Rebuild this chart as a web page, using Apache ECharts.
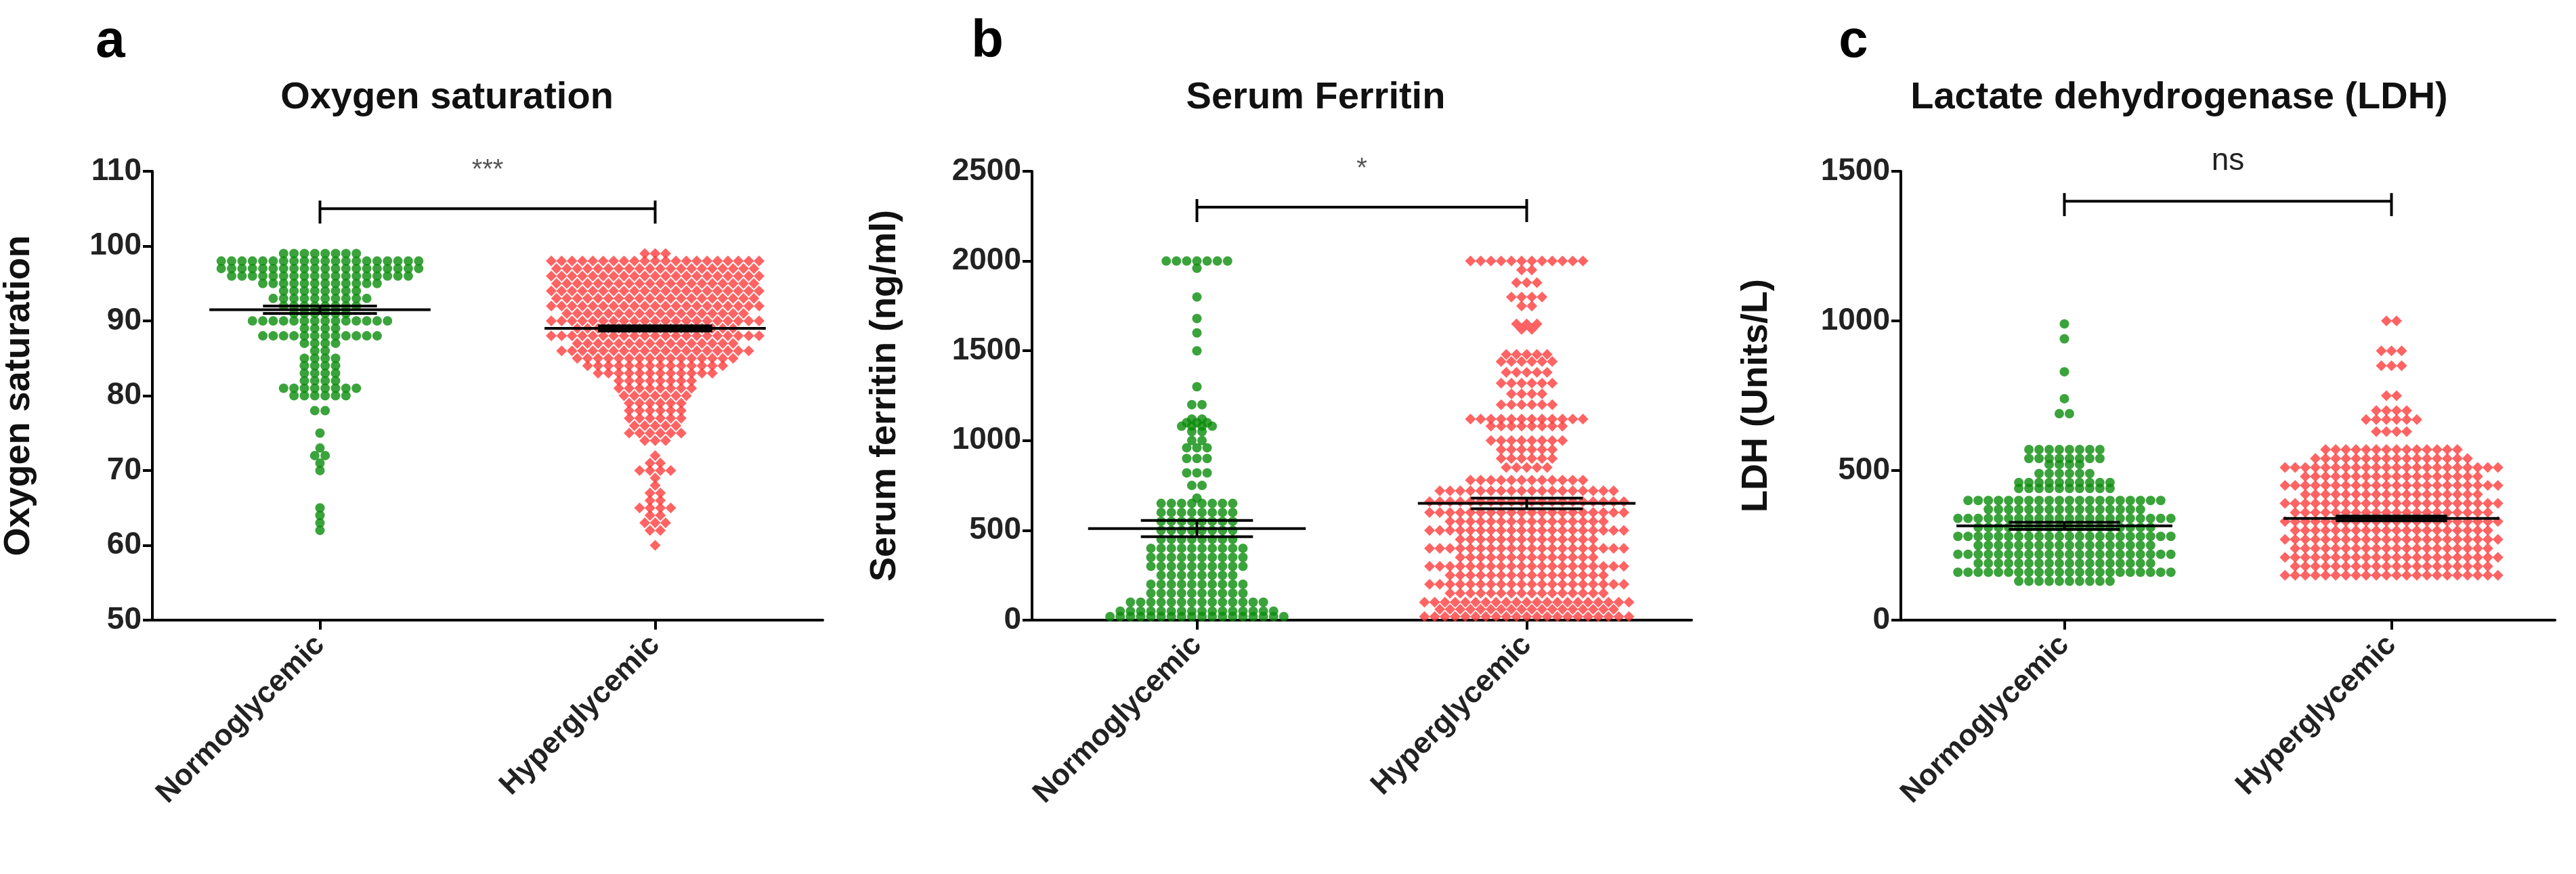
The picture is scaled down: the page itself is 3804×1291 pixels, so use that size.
<!DOCTYPE html>
<html><head><meta charset="utf-8">
<script src="https://cdn.jsdelivr.net/npm/echarts@6/dist/echarts.min.js"></script>
<style>html,body{margin:0;background:#fff}#c{width:3804px;height:1291px}</style>
</head><body><div id="c"></div>
<script>
const categories = ['Normoglycemic','Hyperglycemic'];
// [value, count] pairs
const o2Normo = [[99,8],[98,20],[97,20],[96,18],[95,12],[94,8],[93,10],[92,8],[91,6],[90,14],[89,4],[88,12],[87,4],[86,2],[85,4],[84,4],[83,4],[82,4],[81,8],[80,6],[78,2],[75,1],[73,1],[72,2],[71,1],[70,1],[65,1],[64,1],[63,1],[62,1]];
const o2Hyper = [[99,3],[98,21],[97,20],[96,21],[95,20],[94,21],[93,20],[92,21],[91,18],[90,21],[89,16],[88,21],[87,16],[86,19],[85,16],[84,14],[83,12],[82,8],[81,8],[80,7],[79,6],[78,6],[77,6],[76,5],[75,6],[74,3],[72,1],[71,2],[70,4],[69,1],[68,1],[67,2],[66,2],[65,4],[64,2],[63,3],[62,2],[60,1]];
const ferNormo = [[2000,7],[1960,1],[1800,1],[1680,1],[1600,1],[1500,1],[1300,1],[1200,2],[1120,2],[1100,3],[1080,4],[1050,2],[1000,2],[960,3],[900,3],[820,3],[750,2],[680,1],[650,8],[600,8],[550,8],[500,8],[450,8],[400,10],[350,10],[300,10],[250,8],[200,10],[150,10],[100,14],[50,16],[20,18]];
const ferHyper = [[2000,12],[1950,2],[1880,3],[1800,4],[1750,2],[1650,3],[1620,2],[1480,5],[1440,6],[1380,5],[1320,6],[1260,4],[1200,6],[1120,12],[1080,8],[1000,8],[950,6],[900,6],[850,5],[780,12],[720,18],[660,20],[600,20],[550,16],[500,20],[450,14],[400,20],[350,14],[300,20],[250,16],[200,20],[150,16],[100,21],[60,18],[20,21]];
const ldhNormo = [[990,1],[940,1],[830,1],[740,1],[690,2],[570,8],[540,8],[520,4],[490,6],[460,10],[440,10],[400,20],[370,16],[340,22],[310,18],[280,22],[250,18],[220,22],[190,18],[160,22],[130,10]];
const ldhHyper = [[1000,2],[900,3],[850,3],[750,2],[700,4],[670,6],[630,4],[570,14],[540,16],[510,22],[480,18],[450,22],[420,18],[390,22],[360,20],[330,22],[300,20],[270,22],[240,20],[210,22],[180,20],[150,22]];
const means = {o2:[91.5,89.0], fer:[510,650], ldh:[315,340]};
const sems  = {o2:[0.5,0.35], fer:[45,30], ldh:[12,8]};
const brackets = {o2:105, fer:2300, ldh:1400};
const sigLabels = {o2:'***', fer:'*', ldh:'ns'};
const titles = ['Oxygen saturation','Serum Ferritin','Lactate dehydrogenase (LDH)'];
const yNames = ['Oxygen saturation','Serum ferritin (ng/ml)','LDH (Units/L)'];
const yRanges = [[50,110,10],[0,2500,500],[0,1500,500]];

const SP = 0.031; // horizontal dot spacing in category units (layout)
function swarm(pairs, cx){
  const out=[];
  pairs.forEach(([v,n])=>{for(let i=0;i<n;i++) out.push([cx+(i-(n-1)/2)*SP, v]);});
  return out;
}
const grids = [{left:217,width:998},{left:1524,width:974},{left:2807,width:966}];
const nameGaps=[170,190,186];
const keys=['o2','fer','ldh'];
const sets=[[o2Normo,o2Hyper],[ferNormo,ferHyper],[ldhNormo,ldhHyper]];
const font='Liberation Sans, Arial, sans-serif';
const option={animation:false,backgroundColor:'#fff',
  title:[],grid:[],xAxis:[],yAxis:[],series:[]};
const letters=['a','b','c'], letterX=[158,1453,2732], titleX=[655,1938,3213];
for(let p=0;p<3;p++){
  option.title.push({text:letters[p],left:letterX[p],top:18,textAlign:'center',textStyle:{fontSize:78,fontWeight:'bold',color:'#000',fontFamily:font}});
  option.title.push({text:titles[p],left:titleX[p],top:112,textAlign:'center',textStyle:{fontSize:56,fontWeight:'bold',color:'#111',fontFamily:font}});
  option.grid.push({left:grids[p].left,width:grids[p].width,top:253,height:663});
  option.xAxis.push({gridIndex:p,type:'value',min:-0.5,max:1.5,splitLine:{show:false},
    axisLine:{onZero:false,lineStyle:{color:'#000',width:4}},
    axisTick:{customValues:[0,1],length:14,lineStyle:{color:'#000',width:4}},
    axisLabel:{customValues:[0,1],rotate:45,margin:30,fontSize:44,fontWeight:'bold',color:'#222',fontFamily:font,
      formatter:v=>categories[Math.round(v)]}});
  const [mn,mx,iv]=yRanges[p];
  option.yAxis.push({gridIndex:p,type:'value',min:mn,max:mx,interval:iv,splitLine:{show:false},
    name:yNames[p],nameLocation:'middle',nameGap:nameGaps[p],nameRotate:90,
    nameTextStyle:{fontSize:54,fontWeight:'bold',color:'#111',fontFamily:font},
    axisLine:{show:true,onZero:false,lineStyle:{color:'#000',width:4}},
    axisTick:{show:true,length:14,lineStyle:{color:'#000',width:4}},
    axisLabel:{fontSize:46,fontWeight:'bold',color:'#222',margin:16,fontFamily:font,formatter:v=>String(v)}});
  const cols=['#0a8c0a','#ff3c3c'];
  for(let g=0;g<2;g++){
    option.series.push({type:'scatter',xAxisIndex:p,yAxisIndex:p,data:swarm(sets[p][g],g),
      symbol:g?'diamond':'circle',symbolSize:g?16:14,itemStyle:{color:cols[g]},z:2});
  }
  const k=keys[p];
  option.series.push({type:'custom',xAxisIndex:p,yAxisIndex:p,z:5,
    data:[[0,means[k][0],sems[k][0]],[1,means[k][1],sems[k][1]]],
    renderItem:(params,api)=>{
      const x=api.value(0),m=api.value(1),s=api.value(2);
      const L=api.coord([x-0.33,m]),R=api.coord([x+0.33,m]);
      const top=api.coord([x,m+s]),bot=api.coord([x,m-s]);
      const el=api.coord([x-0.17,m]), er=api.coord([x+0.17,m]);
      const st={stroke:'#000',lineWidth:4};
      return {type:'group',children:[
        {type:'line',shape:{x1:L[0],y1:L[1],x2:R[0],y2:R[1]},style:st},
        {type:'line',shape:{x1:top[0],y1:top[1],x2:bot[0],y2:bot[1]},style:st},
        {type:'line',shape:{x1:el[0],y1:top[1],x2:er[0],y2:top[1]},style:st},
        {type:'line',shape:{x1:el[0],y1:bot[1],x2:er[0],y2:bot[1]},style:st}]};
    }});
  option.series.push({type:'custom',xAxisIndex:p,yAxisIndex:p,z:5,
    data:[[0,1,brackets[k]]],
    renderItem:(params,api)=>{
      const y=api.value(2);
      const a=api.coord([api.value(0),y]),b=api.coord([api.value(1),y]);
      const st={stroke:'#000',lineWidth:4};
      return {type:'group',children:[
        {type:'line',shape:{x1:a[0],y1:a[1],x2:b[0],y2:b[1]},style:st},
        {type:'line',shape:{x1:a[0],y1:a[1]-12,x2:a[0],y2:a[1]+22},style:st},
        {type:'line',shape:{x1:b[0],y1:b[1]-12,x2:b[0],y2:b[1]+22},style:st},
        {type:'text',style:{text:sigLabels[k],x:(a[0]+b[0])/2,y:a[1]-36,align:'center',verticalAlign:'bottom',
          fontSize:sigLabels[k]==='ns'?46:40,fill:sigLabels[k]==='ns'?'#222':'#555',fontFamily:font}}]};
    }});
}
echarts.init(document.getElementById('c')).setOption(option);
</script></body></html>
